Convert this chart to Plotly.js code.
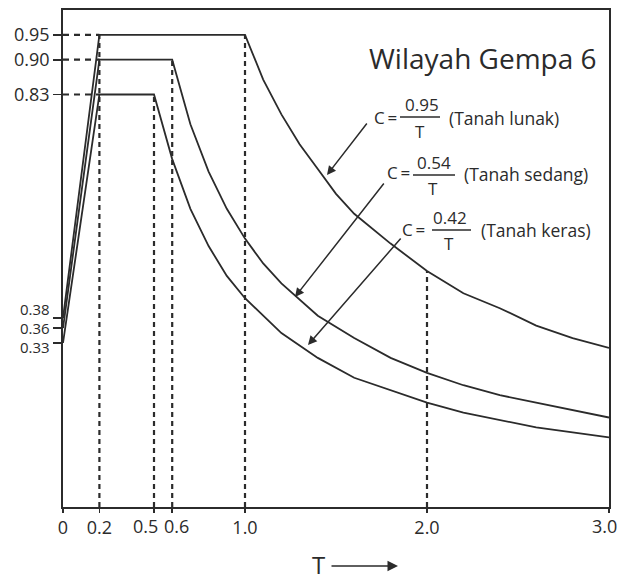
<!DOCTYPE html>
<html>
<head>
<meta charset="utf-8">
<script src="https://cdn.plot.ly/plotly-3.0.1.min.js"></script>
<style>html,body{margin:0;padding:0;background:#fff;}#chart{width:620px;height:580px;}</style>
</head>
<body>
<div id="chart"></div>
<script>
// Tanah lunak (soft soil)
var lunakT = [0, 0.2, 1.0, 1.1, 1.2, 1.3, 1.4, 1.5, 1.6, 1.8, 2.0, 2.2, 2.4, 2.6, 2.8, 3.0];
var lunakC = [0.38, 0.95, 0.95, 0.86, 0.79, 0.73, 0.68, 0.63, 0.59, 0.53, 0.475, 0.43, 0.40, 0.365, 0.34, 0.32];
// Tanah sedang (medium soil)
var sedangT = [0, 0.2, 0.6, 0.7, 0.8, 0.9, 1.0, 1.1, 1.2, 1.4, 1.6, 1.8, 2.0, 2.2, 2.4, 2.6, 2.8, 3.0];
var sedangC = [0.36, 0.90, 0.90, 0.77, 0.675, 0.60, 0.54, 0.49, 0.45, 0.385, 0.34, 0.30, 0.27, 0.245, 0.225, 0.21, 0.195, 0.18];
// Tanah keras (hard soil)
var kerasT = [0, 0.2, 0.5, 0.6, 0.7, 0.8, 0.9, 1.0, 1.2, 1.4, 1.6, 1.8, 2.0, 2.2, 2.4, 2.6, 2.8, 3.0];
var kerasC = [0.33, 0.83, 0.83, 0.70, 0.60, 0.525, 0.465, 0.42, 0.35, 0.30, 0.26, 0.235, 0.21, 0.19, 0.175, 0.16, 0.15, 0.14];

// dashed guide lines
var guideT = [0.2, 0.5, 0.6, 1.0, 2.0];
var guideC = [0.95, 0.83, 0.90, 0.95, 0.475];
var plateauC = [0.95, 0.90, 0.83];
var plateauStartT = 0.2;

// tick labels
var xTickVals = [0, 0.2, 0.5, 0.6, 1.0, 2.0, 3.0];
var xTickText = ["0", "0.2", "0.5", "0.6", "1.0", "2.0", "3.0"];
var yTickVals = [0.33, 0.36, 0.38, 0.83, 0.90, 0.95];
var yTickText = ["0.33", "0.36", "0.38", "0.83", "0.90", "0.95"];

var ink = "#2b2b2b";
var font = "Open Sans, DejaVu Sans, sans-serif";

// pixel helpers for text placement (plot area: x 63..609, y 10..507)
function PX(p) { return (p - 63) / 182; }
function PY(p) { return (507 - p) / 497; }
function QX(p) { return (p - 63) / 546; }
function QY(p) { return (507 - p) / 497; }

var traces = [];
guideT.forEach(function (t, i) {
  traces.push({x: [t, t], y: [0, guideC[i]], mode: "lines", hoverinfo: "skip",
    line: {color: ink, width: 2.2, dash: "5px,4px"}, showlegend: false});
});
plateauC.forEach(function (c) {
  traces.push({x: [0, plateauStartT], y: [c, c], mode: "lines", hoverinfo: "skip",
    line: {color: ink, width: 2.2, dash: "6px,5px"}, showlegend: false});
});
[[lunakT, lunakC, "Tanah lunak"], [sedangT, sedangC, "Tanah sedang"], [kerasT, kerasC, "Tanah keras"]].forEach(function (s) {
  traces.push({x: s[0], y: s[1], name: s[2], mode: "lines", line: {color: ink, width: 1.8}, showlegend: false});
});

// tick labels spread apart as in the reference (drawn as annotations)
var yCluster = {"0.38": 309, "0.36": 328, "0.33": 347};
var xCluster = {"0.5": 145, "0.6": 176, "3.0": 604};
var yTickShown = yTickText.map(function (t) { return yCluster[t] ? "" : t; });
var xTickShown = xTickText.map(function (t) { return xCluster[t] ? "" : t; });

var annotations = [];
Object.keys(yCluster).forEach(function (t) {
  annotations.push({xref: "paper", yref: "paper", x: QX(51), y: QY(yCluster[t]), xanchor: "right", yanchor: "middle",
    text: t, showarrow: false, borderpad: 0, font: {family: font, size: 15, color: ink}});
});
Object.keys(xCluster).forEach(function (t) {
  annotations.push({xref: "paper", yref: "paper", x: QX(xCluster[t]), y: QY(526), xanchor: "center", yanchor: "middle",
    text: t, showarrow: false, font: {family: font, size: 18, color: ink}});
});

annotations.push({x: PX(483), y: PY(58), text: "Wilayah Gempa 6", showarrow: false,
  font: {family: font, size: 28, color: ink}});

var labels = [
  {num: "0.95", eq: [385, 117], numP: [422, 104], denP: [420, 131], bar: [400, 440, 117], lab: [447, 118, "(Tanah lunak)"]},
  {num: "0.54", eq: [398, 172], numP: [434, 162], denP: [433, 188], bar: [413, 455, 175], lab: [462, 174, "(Tanah sedang)"]},
  {num: "0.42", eq: [413, 229], numP: [450, 217], denP: [449, 243], bar: [432, 471, 230], lab: [479, 230, "(Tanah keras)"]}
];
var shapes = [];
labels.forEach(function (L) {
  annotations.push({x: PX(L.eq[0]), y: PY(L.eq[1]), text: "C\u2009=", showarrow: false, font: {family: font, size: 17, color: ink}});
  annotations.push({x: PX(L.numP[0]), y: PY(L.numP[1]), text: L.num, showarrow: false, font: {family: font, size: 17, color: ink}});
  annotations.push({x: PX(L.denP[0]), y: PY(L.denP[1]), text: "T", showarrow: false, font: {family: font, size: 17, color: ink}});
  annotations.push({x: PX(L.lab[0]), y: PY(L.lab[1]), text: L.lab[2], xanchor: "left", showarrow: false, font: {family: font, size: 17.5, color: ink}});
  shapes.push({type: "line", xref: "x", yref: "y", x0: PX(L.bar[0]), x1: PX(L.bar[1]), y0: PY(L.bar[2]), y1: PY(L.bar[2]),
    line: {color: ink, width: 1.4}});
});
var arrows = [
  {head: [327, 175], tail: [368, 122]},
  {head: [295, 297], tail: [385, 182]},
  {head: [308, 345], tail: [402, 237]}
];
arrows.forEach(function (a) {
  annotations.push({x: PX(a.head[0]), y: PY(a.head[1]), ax: PX(a.tail[0]), ay: PY(a.tail[1]), axref: "x", ayref: "y",
    xref: "x", yref: "y", text: "", showarrow: true, arrowhead: 2, arrowsize: 1.2, arrowwidth: 1.5, arrowcolor: ink});
});
// axis label "T ->"
annotations.push({x: QX(318), y: QY(564), xref: "paper", yref: "paper", xanchor: "center", yanchor: "middle",
  text: "T", showarrow: false, font: {family: font, size: 24, color: ink}});
annotations.push({x: QX(398), y: QY(566), ax: -68, ay: 0, xref: "paper", yref: "paper",
  text: "", showarrow: true, arrowhead: 2, arrowsize: 1.4, arrowwidth: 1.5, arrowcolor: ink});

var layout = {
  width: 620, height: 580,
  margin: {l: 63, r: 11, t: 10, b: 73},
  paper_bgcolor: "#fff", plot_bgcolor: "#fff",
  showlegend: false,
  xaxis: {range: [0, 3.0], tickvals: xTickVals, ticktext: xTickShown, ticks: "outside", ticklen: 4,
    tickcolor: ink, tickwidth: 1.8, showline: true, mirror: true, linecolor: ink, linewidth: 1.8,
    showgrid: false, zeroline: false, tickangle: 0, ticklabeloverflow: "allow",
    tickfont: {family: font, size: 18, color: ink}},
  yaxis: {range: [0, 1.0], tickvals: yTickVals, ticktext: yTickShown, ticks: "outside", ticklen: 8,
    tickcolor: ink, tickwidth: 1.6, showline: true, mirror: true, linecolor: ink, linewidth: 1.8,
    showgrid: false, zeroline: false, tickfont: {family: font, size: 18, color: ink}},
  annotations: annotations,
  shapes: shapes
};
Plotly.newPlot("chart", traces, layout, {staticPlot: true, displayModeBar: false});
</script>
</body>
</html>
